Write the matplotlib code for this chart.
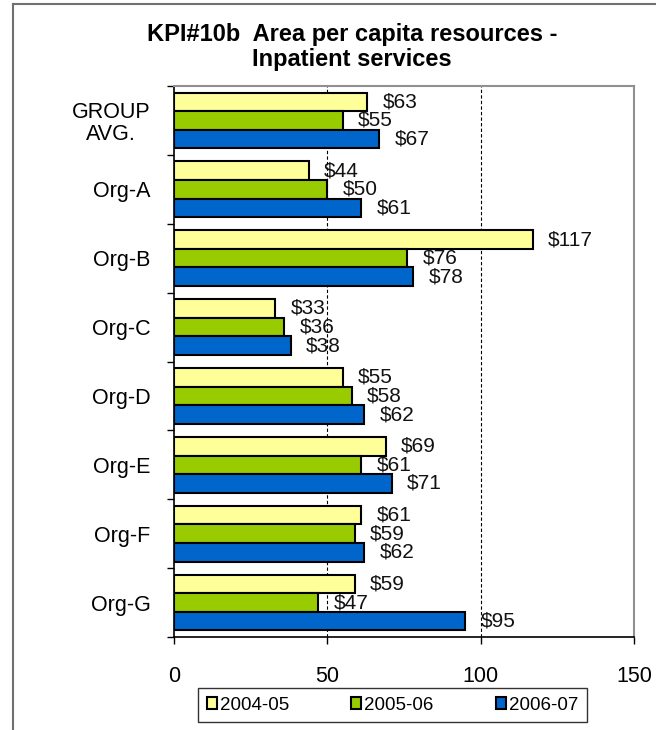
import numpy as np
import matplotlib
matplotlib.use("Agg")
import matplotlib.pyplot as plt
from matplotlib.lines import Line2D

plt.rcParams['font.family'] = ['Liberation Sans', 'DejaVu Sans']

# --- data ---
categories = ["GROUP\nAVG.", "Org-A", "Org-B", "Org-C", "Org-D", "Org-E", "Org-F", "Org-G"]
series_names = ["2004-05", "2005-06", "2006-07"]
v_2004 = [63, 44, 117, 33, 55, 69, 61, 59]
v_2005 = [55, 50, 76, 36, 58, 61, 59, 47]
v_2006 = [67, 61, 78, 38, 62, 71, 62, 95]
colors = ["#FFFF99", "#99CC00", "#0066CC"]

fs = 15.5

fig = plt.figure(figsize=(6.56, 7.3), dpi=100)
ax = fig.add_axes([174/656, 1 - 637/730, (634 - 174)/656, (637 - 86)/730])

y = np.arange(len(categories))
h = 0.27
for i, (vals, col, name) in enumerate(zip([v_2004, v_2005, v_2006], colors, series_names)):
    pos = y + (i - 1) * h
    ax.barh(pos, vals, height=h, color=col, edgecolor="black", linewidth=1.5, label=name, zorder=3)
    for p, v in zip(pos, vals):
        ax.text(v + 5, p, f"${v}", va="center", ha="left", fontsize=15, color="#111111", zorder=4)

ax.set_xlim(0, 150)
ax.set_ylim(len(categories) - 0.5, -0.5)
ax.set_xticks([0, 50, 100, 150])
ax.tick_params(axis="x", labelsize=fs, pad=16, direction="out", length=5, width=1)
ax.set_yticks(y)
ax.set_yticklabels(categories, fontsize=fs, multialignment="center", linespacing=1.05)
ax.tick_params(axis="y", which="major", length=0, pad=17)
ax.set_yticks(np.arange(-0.5, len(categories)), minor=True)
ax.tick_params(axis="y", which="minor", length=5, width=1, direction="out")

for x in [50, 100]:
    ax.axvline(x, color="black", linestyle=(0, (3, 2)), linewidth=0.8, zorder=1)

ax.spines["left"].set_color("black")
ax.spines["bottom"].set_color("black")
ax.spines["left"].set_linewidth(1.2)
ax.spines["bottom"].set_linewidth(1.2)
ax.spines["top"].set_color("#909090")
ax.spines["right"].set_color("#909090")
ax.spines["top"].set_linewidth(1.5)
ax.spines["right"].set_linewidth(1.5)

fig.text(352/656, 1 - 47/730, "KPI#10b  Area per capita resources -\nInpatient services",
         ha="center", va="center", fontsize=17, fontweight="bold", linespacing=1.1)

handles = [plt.Rectangle((0, 0), 1, 1, facecolor=c, edgecolor="black", linewidth=1.5) for c in colors]
leg = fig.legend(handles, series_names, loc="center", bbox_to_anchor=((196 + 589) / 2 / 656, 1 - 705/730),
                 ncol=3, fontsize=13.5, frameon=True, fancybox=False, edgecolor="black",
                 handlelength=0.55, handleheight=0.55, handletextpad=0.15, columnspacing=3.3,
                 borderpad=0.45, borderaxespad=0)
leg.get_frame().set_linewidth(1.0)

# outer chart border (left and top edges visible)
fig.add_artist(Line2D([13/656, 13/656], [0, 1 - 4/730], transform=fig.transFigure, color="#707070", linewidth=1.5))
fig.add_artist(Line2D([13/656, 1], [1 - 4/730, 1 - 4/730], transform=fig.transFigure, color="#707070", linewidth=1.5))

fig.savefig("out.png", dpi=100)
